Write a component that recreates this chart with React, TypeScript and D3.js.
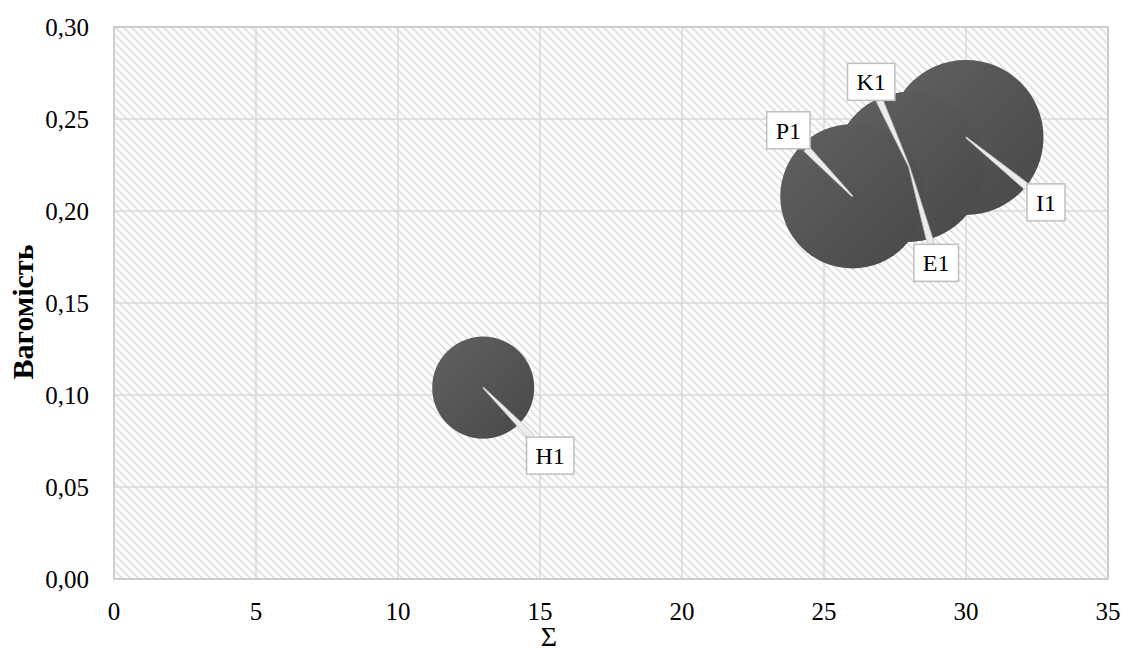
import React, { useMemo } from "react";
import * as d3 from "d3";

// Chart data
const labels = ["H1", "P1", "K1", "E1", "I1"];
const sums = [13, 26, 28, 28, 30];
const weights = [0.104, 0.208, 0.224, 0.224, 0.24];
const sizes = [13, 26, 28, 28, 30];

// Data-label placement (offset of label box centre from bubble centre, px)
const labelOffsets: [number, number][] = [
  [67, 68],
  [-64, -66],
  [-38, -85],
  [27, 96],
  [80, 65],
];

const xTicks = [0, 5, 10, 15, 20, 25, 30, 35];
const yTicks = [0, 0.05, 0.1, 0.15, 0.2, 0.25, 0.3];

const W = 1124;
const H = 664;
const plot = { left: 114, right: 1108, top: 27, bottom: 579 };
const FONT = "'Liberation Serif', 'Times New Roman', serif";

function measure(text: string, font: string): number {
  const c = document.createElement("canvas");
  const ctx = c.getContext("2d");
  if (!ctx) return text.length * 12;
  ctx.font = font;
  return ctx.measureText(text).width;
}

export default function App() {
  const x = d3.scaleLinear().domain([0, 35]).range([plot.left, plot.right]);
  const y = d3.scaleLinear().domain([0, 0.3]).range([plot.bottom, plot.top]);
  const r = d3.scaleSqrt().domain([0, 30]).range([0, 77.5]);
  const fmt = (v: number) => v.toFixed(2).replace(".", ",");

  const points = useMemo(
    () =>
      labels.map((name, i) => ({
        name,
        cx: x(sums[i]),
        cy: y(weights[i]),
        rad: r(sizes[i]),
        off: labelOffsets[i],
      })),
    []
  );

  // Larger bubbles are drawn first so smaller ones stay on top
  const drawOrder = [...points].sort((a, b) => b.rad - a.rad);

  const boxes = points.map((p) => {
    const tw = measure(p.name, `24px ${FONT}`);
    const w = tw + 18;
    const h = 37;
    const bx = p.cx + p.off[0];
    const by = p.cy + p.off[1];
    const box = { x0: bx - w / 2, x1: bx + w / 2, y0: by - h / 2, y1: by + h / 2 };
    // leader: from bubble centre towards box centre, ending where it enters the box
    const dx = bx - p.cx;
    const dy = by - p.cy;
    const tx = dx > 0 ? (box.x0 - p.cx) / dx : dx < 0 ? (box.x1 - p.cx) / dx : -Infinity;
    const ty = dy > 0 ? (box.y0 - p.cy) / dy : dy < 0 ? (box.y1 - p.cy) / dy : -Infinity;
    const t = Math.max(tx, ty, 0);
    const ex = p.cx + dx * t;
    const ey = p.cy + dy * t;
    const len = Math.hypot(dx, dy) || 1;
    const nx = -dy / len;
    const ny = dx / len;
    const bw = 3.5;
    const tip = 0.6;
    const wedge = [
      [p.cx + nx * tip, p.cy + ny * tip],
      [ex + nx * bw, ey + ny * bw],
      [ex - nx * bw, ey - ny * bw],
      [p.cx - nx * tip, p.cy - ny * tip],
    ];
    return { p, box, bx, by, wedge };
  });

  return (
    <svg
      width={W}
      height={H}
      style={{ position: "absolute", left: 0, top: 0, background: "#fff" }}
      fontFamily={FONT}
    >
      <defs>
        <pattern id="hatch" width={8} height={8} patternUnits="userSpaceOnUse">
          <rect width={8} height={8} fill="#ffffff" />
          <path
            d="M-2,-2 L10,10 M-2,6 L2,10 M6,-2 L10,2"
            stroke="#e0e0e0"
            strokeWidth={1.8}
          />
        </pattern>
        <linearGradient id="bub" x1="0" y1="0" x2="1" y2="1">
          <stop offset="0" stopColor="#616161" />
          <stop offset="1" stopColor="#484848" />
        </linearGradient>
      </defs>

      {/* plot area */}
      <rect
        x={plot.left}
        y={plot.top}
        width={plot.right - plot.left}
        height={plot.bottom - plot.top}
        fill="url(#hatch)"
      />

      {/* gridlines */}
      {xTicks.map((t) => (
        <line
          key={"gx" + t}
          x1={x(t)}
          x2={x(t)}
          y1={plot.top}
          y2={plot.bottom}
          stroke="#d9d9d9"
          strokeWidth={1.5}
        />
      ))}
      {yTicks.map((t) => (
        <line
          key={"gy" + t}
          x1={plot.left}
          x2={plot.right}
          y1={y(t)}
          y2={y(t)}
          stroke="#d9d9d9"
          strokeWidth={1.5}
        />
      ))}
      <rect
        x={plot.left}
        y={plot.top}
        width={plot.right - plot.left}
        height={plot.bottom - plot.top}
        fill="none"
        stroke="#c6c6c6"
        strokeWidth={1.5}
      />

      {/* tick labels */}
      {yTicks.map((t) => (
        <text
          key={"ty" + t}
          x={89}
          y={y(t)}
          dy="0.35em"
          textAnchor="end"
          fontSize={25}
          fill="#000"
        >
          {fmt(t)}
        </text>
      ))}
      {xTicks.map((t) => (
        <text
          key={"tx" + t}
          x={x(t)}
          y={620}
          textAnchor="middle"
          fontSize={25}
          fill="#000"
        >
          {t}
        </text>
      ))}

      {/* axis titles */}
      <text x={549} y={646} textAnchor="middle" fontSize={28} fill="#000">
        Σ
      </text>
      <text
        transform={`translate(33, 312) rotate(-90)`}
        textAnchor="middle"
        fontSize={30}
        fontWeight="bold"
        fill="#000"
      >
        Вагомість
      </text>

      {/* bubbles */}
      {drawOrder.map((p) => (
        <circle key={p.name} cx={p.cx} cy={p.cy} r={p.rad} fill="url(#bub)" />
      ))}

      {/* leader lines and data labels */}
      {boxes.map(({ p, wedge }) => (
        <polygon
          key={"w" + p.name}
          points={wedge.map((q) => q.join(",")).join(" ")}
          fill="#ececec"
          stroke="#bdbdbd"
          strokeWidth={0.8}
        />
      ))}
      {boxes.map(({ p, box, bx, by }) => (
        <g key={"l" + p.name}>
          <rect
            x={box.x0}
            y={box.y0}
            width={box.x1 - box.x0}
            height={box.y1 - box.y0}
            fill="#fff"
            stroke="#bfbfbf"
            strokeWidth={1.5}
          />
          <text x={bx} y={by} dy="0.35em" textAnchor="middle" fontSize={24} fill="#000">
            {p.name}
          </text>
        </g>
      ))}
    </svg>
  );
}
